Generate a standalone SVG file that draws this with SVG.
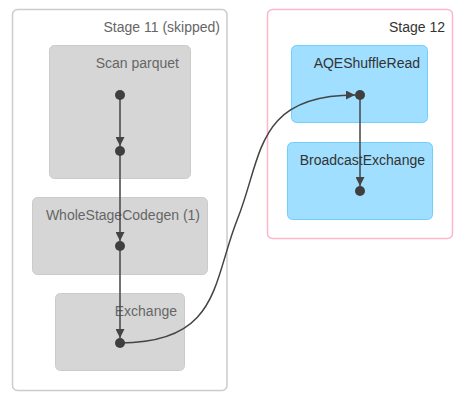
<svg xmlns="http://www.w3.org/2000/svg" width="466" height="402" viewBox="0 0 466 402">
  <style>
    .cluster { fill: #ffffff; stroke-width: 1.5; }
    .skipped { stroke: #cccccc; }
    .active { stroke: #ffb6c8; }
    .node-skip { fill: #d6d6d6; stroke: #cbcbcb; stroke-width: 1; }
    .node-run { fill: #a0dfff; stroke: #6fcfff; stroke-width: 1; }
    text { font-family: "Liberation Sans", Arial, sans-serif; font-size: 14px; text-anchor: end; }
    .t-skip { fill: #666666; }
    .t-run { fill: #333333; }
    .dot { fill: #3f3f3f; }
    .edge { fill: none; stroke: #444444; stroke-width: 1.5; }
  </style>
  <defs>
    <marker id="arrow" viewBox="0 0 10 10" refX="10" refY="5" markerWidth="9" markerHeight="9" markerUnits="userSpaceOnUse" orient="auto">
      <path d="M0,0 L10,5 L0,10 Z" fill="#444444"/>
    </marker>
  </defs>

  <g id="stage-11">
    <rect class="cluster skipped" x="12.5" y="9.5" width="214.5" height="381" rx="5" ry="5"/>
    <text class="t-skip" x="220" y="32">Stage 11 (skipped)</text>
  </g>
  <g id="stage-12">
    <rect class="cluster active" x="267.5" y="9.5" width="185" height="229" rx="5" ry="5"/>
    <text class="t-run" x="445" y="32">Stage 12</text>
  </g>

  <g id="scan-parquet">
    <rect class="node-skip" x="49.5" y="45.5" width="141" height="133" rx="5" ry="5"/>
    <text class="t-skip" x="179" y="68">Scan parquet</text>
  </g>
  <g id="whole-stage-codegen">
    <rect class="node-skip" x="32.5" y="197.5" width="175" height="77" rx="5" ry="5"/>
    <text class="t-skip" x="200" y="220">WholeStageCodegen (1)</text>
  </g>
  <g id="exchange">
    <rect class="node-skip" x="55.5" y="293.5" width="129" height="77" rx="5" ry="5"/>
    <text class="t-skip" x="177" y="316">Exchange</text>
  </g>
  <g id="aqe-shuffle-read">
    <rect class="node-run" x="291.5" y="45.5" width="136" height="77" rx="5" ry="5"/>
    <text class="t-run" x="420" y="68">AQEShuffleRead</text>
  </g>
  <g id="broadcast-exchange">
    <rect class="node-run" x="287.5" y="142.5" width="145" height="77" rx="5" ry="5"/>
    <text class="t-run" x="425" y="165">BroadcastExchange</text>
  </g>

  <g id="edges">
    <path class="edge" d="M120,95 L120,146" marker-end="url(#arrow)"/>
    <path class="edge" d="M120,151 L120,241" marker-end="url(#arrow)"/>
    <path class="edge" d="M120,246 L120,338" marker-end="url(#arrow)"/>
    <path class="edge" d="M120,343 C220,343 212.5,281.5 237.5,219 C262.5,156.5 255,95 355,95" marker-end="url(#arrow)"/>
    <path class="edge" d="M360,95 L360,186" marker-end="url(#arrow)"/>
  </g>

  <g id="points">
    <circle class="dot" cx="120" cy="95" r="5"/>
    <circle class="dot" cx="120" cy="151" r="5"/>
    <circle class="dot" cx="120" cy="246" r="5"/>
    <circle class="dot" cx="120" cy="343" r="5"/>
    <circle class="dot" cx="360" cy="95" r="5"/>
    <circle class="dot" cx="360" cy="191" r="5"/>
  </g>
</svg>
